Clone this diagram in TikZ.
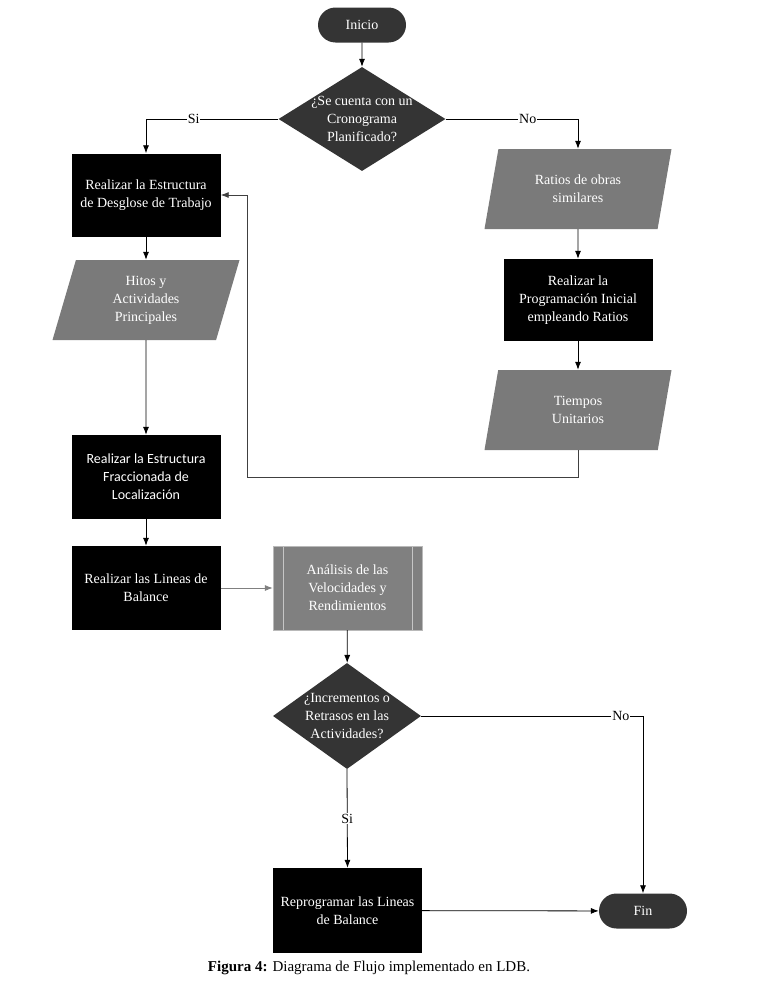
\documentclass[tikz,border=0pt]{standalone}
\usepackage{fontspec}
\setmainfont{Liberation Serif}
\newfontfamily\calfont{Carlito}
\usetikzlibrary{shapes.geometric, shapes.misc, arrows.meta, calc}

\definecolor{darkfill}{HTML}{343434}
\definecolor{parafill}{HTML}{7A7A7A}
\definecolor{procfill}{HTML}{808080}

\tikzset{
    base/.style={text=white, align=center, font=\fontsize{14}{18}\selectfont, inner sep=1pt},
    term/.style={base, rounded rectangle, fill=darkfill, minimum width=90pt, minimum height=35pt},
    dec/.style={diamond, fill=darkfill, inner sep=0pt},
    dectext/.style={base},
    blk/.style={base, rectangle, fill=black, minimum width=149pt, minimum height=83pt},
    para/.style={base, trapezium, trapezium left angle=65, trapezium right angle=115,
        trapezium stretches body, fill=parafill, minimum width=187pt, minimum height=80pt},
    proc/.style={base, rectangle, fill=procfill, draw=gray!55, minimum width=149pt, minimum height=84pt,
        path picture={
            \draw[gray!45, line width=1pt] ([xshift=10pt]path picture bounding box.north west) -- ([xshift=10pt]path picture bounding box.south west);
            \draw[gray!45, line width=1pt] ([xshift=-10pt]path picture bounding box.north east) -- ([xshift=-10pt]path picture bounding box.south east);
        }},
    lbl/.style={fill=white, text=black, font=\fontsize{14}{16}\selectfont, inner sep=1pt},
    flow/.style={-{Latex[length=8pt,width=6pt]}, line width=0.8pt}
}

\begin{document}
\begin{tikzpicture}[x=1pt, y=-1pt]
    \useasboundingbox (0,0) rectangle (784,993);

    \node[term] (inicio) at (362,25) {Inicio};

    \node[dec, minimum width=167pt, minimum height=104pt] (d1) at (362,119) {};
    \node[dectext] (d1t) at (d1) {¿Se cuenta con un\\Cronograma\\Planificado?};

    % left column
    \node[blk] (wbs) at (146,195) {Realizar la Estructura\\de Desglose de Trabajo};
    \node[para] (hitos) at (146,300) {Hitos y\\Actividades\\Principales};
    \node[blk, minimum height=84pt, font=\calfont\fontsize{14}{18}\selectfont] (loc) at (146,477) {Realizar la Estructura\\Fraccionada de\\Localización};
    \node[blk, minimum height=84pt] (lob) at (146,588) {Realizar las Lineas de\\Balance};

    % right column
    \node[para] (ratios) at (578,189) {Ratios de obras\\similares};
    \node[blk, minimum height=82pt] (prog) at (578,300) {Realizar la\\Programación Inicial\\empleando Ratios};
    \node[para] (tiempos) at (578,410) {Tiempos\\Unitarios};
    \coordinate (back) at (247,477);

    % lower part
    \node[proc] (analisis) at (347.5,588) {Análisis de las\\Velocidades y\\Rendimientos};
    \node[dec, minimum width=148pt, minimum height=106pt] (d2) at (347,716) {};
    \node[dectext] (d2t) at (d2) {¿Incrementos o\\Retrasos en las\\Actividades?};
    \node[blk, minimum height=85pt] (reprog) at (347.5,910.5) {Reprogramar las Lineas\\de Balance};
    \node[term] (fin) at (643,911) {Fin};

    \draw[flow] (inicio) -- (d1);
    \draw[flow] (d1.west) -| node[lbl, pos=0.32]{Si} (wbs.north);
    \draw[flow] (d1.east) -| node[lbl, pos=0.31]{No} (ratios.north);
    \draw[flow] (wbs) -- (hitos);
    \draw[flow] (hitos) -- (loc);
    \draw[flow] (loc) -- (lob);
    \draw[flow, gray] (lob) -- (analisis);
    \draw[flow] (ratios) -- (prog);
    \draw[flow] (prog) -- (tiempos);
    \draw[flow, black!75] (tiempos.south) |- (back) |- (wbs.east);
    \draw[flow] (analisis) -- (d2);
    \draw[flow] (d2.east) -| node[lbl, pos=0.45]{No} (fin.north);
    \draw[flow] (d2.south) -- node[lbl]{Si} (reprog.north);
    \draw[flow] (reprog) -- (fin);

    \node[font=\fontsize{15}{18}\selectfont] (caption) at (369,968) {\textbf{Figura 4:} Diagrama de Flujo implementado en LDB.};
\end{tikzpicture}
\end{document}
